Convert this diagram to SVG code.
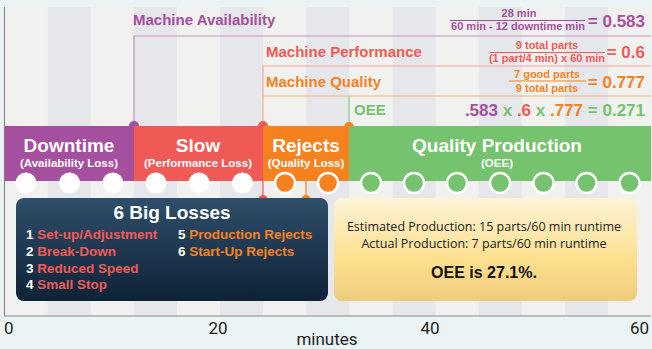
<svg xmlns="http://www.w3.org/2000/svg" width="652" height="349" viewBox="0 0 652 349">
<defs>
<linearGradient id="gBlue" x1="0" y1="0" x2="0" y2="1"><stop offset="0" stop-color="#2f4f6b"/><stop offset="1" stop-color="#0f2236"/></linearGradient>
<linearGradient id="gYel" x1="0" y1="0" x2="0" y2="1"><stop offset="0" stop-color="#fcf3d6"/><stop offset="0.6" stop-color="#fde08e"/><stop offset="1" stop-color="#eecb7d"/></linearGradient>
<style>
.b{font-family:"Liberation Sans",Arial,sans-serif;font-weight:bold}
.n{font-family:"Open Sans","DejaVu Sans",sans-serif}
.ax{font-family:Roboto,"Liberation Sans",sans-serif;font-size:17px;fill:#222}
.dk{fill:#e6e7eb}
.wc{fill:#fff}
.oc{fill:#f5821f;stroke:#fff;stroke-width:2.5}
.gc{fill:#76c36f;stroke:#fff;stroke-width:2.5}
.bt{font-size:19px;fill:#fff;text-anchor:middle}
.bs{font-size:11.5px;fill:#fff;text-anchor:middle}
.hd{font-size:15px}
.fr{font-size:11px;text-anchor:middle}
.eq{font-size:17px}
.li{font-size:13.5px}
</style>
</defs>
<rect x="0" y="0" width="652" height="349" fill="#eaf4f4"/>
<g id="plot">
<rect x="4" y="7" width="647" height="309" fill="#f1f2ef"/>
<rect class="dk" x="47.6" y="7" width="43.1" height="309"/>
<rect class="dk" x="133.8" y="7" width="43.1" height="309"/>
<rect class="dk" x="220.1" y="7" width="43.1" height="309"/>
<rect class="dk" x="306.3" y="7" width="43.1" height="309"/>
<rect class="dk" x="392.5" y="7" width="43.1" height="309"/>
<rect class="dk" x="478.7" y="7" width="43.1" height="309"/>
<rect class="dk" x="565" y="7" width="43.1" height="309"/>
<path d="M4.5 7V316H651" fill="none" stroke="#8a8a8a" stroke-width="1.2"/>
</g>
<g id="axis">
<text class="ax" x="4" y="334">0</text>
<text class="ax" x="218" y="334" text-anchor="middle">20</text>
<text class="ax" x="430" y="334" text-anchor="middle">40</text>
<text class="ax" x="649" y="334" text-anchor="end">60</text>
<text class="ax" x="327" y="345" text-anchor="middle" font-size="16">minutes</text>
</g>
<g id="connectors" fill="none" stroke-width="1.2">
<path d="M134 126V36H651" stroke="#c98fc6"/>
<path d="M263 96V66H651" stroke="#f6a3a0"/>
<path d="M263 126V96H651" stroke="#f6b278"/>
<path d="M349 126V96" stroke="#8fcf86"/>
<path d="M263 181V200" stroke="#ef5a57"/>
<path d="M306 181V200" stroke="#f5821f"/>
<circle cx="134" cy="126" r="5" fill="#a4509f" stroke="none"/>
<circle cx="263" cy="126" r="5" fill="#ef5a57" stroke="none"/>
<circle cx="349" cy="127" r="5" fill="#f5821f" stroke="none"/>
<circle cx="263" cy="200" r="5" fill="#ef5a57" stroke="none"/>
<circle cx="306" cy="200" r="5" fill="#f5821f" stroke="none"/>
</g>
<g id="availability">
<text class="b hd" x="133" y="25" fill="#a4509f">Machine Availability</text>
<text class="b fr" x="519" y="17" fill="#a4509f">28 min</text>
<line x1="450" y1="20.5" x2="585" y2="20.5" stroke="#a4509f" stroke-width="1"/>
<text class="b fr" x="518" y="30" fill="#a4509f">60 min - 12 downtime min</text>
<text class="b eq" x="645" y="27" fill="#a4509f" text-anchor="end">= 0.583</text>
</g>
<g id="performance">
<text class="b hd" x="266" y="57" fill="#ef5a57">Machine Performance</text>
<text class="b fr" x="547" y="49" fill="#ef5a57">9 total parts</text>
<line x1="490" y1="52.5" x2="605" y2="52.5" stroke="#ef5a57" stroke-width="1"/>
<text class="b fr" x="547" y="62" fill="#ef5a57">(1 part/4 min) x 60 min</text>
<text class="b eq" x="645" y="58" fill="#ef5a57" text-anchor="end">= 0.6</text>
</g>
<g id="quality">
<text class="b hd" x="266" y="87" fill="#f5821f">Machine Quality</text>
<text class="b fr" x="547" y="78" fill="#f5821f">7 good parts</text>
<line x1="509" y1="81" x2="586" y2="81" stroke="#f5821f" stroke-width="1"/>
<text class="b fr" x="547" y="92" fill="#f5821f">9 total parts</text>
<text class="b eq" x="645" y="88" fill="#f5821f" text-anchor="end">= 0.777</text>
</g>
<g id="oee">
<text class="b hd" x="354" y="115" fill="#76c36f">OEE</text>
<text class="b eq" x="645" y="116" text-anchor="end" fill="#76c36f"><tspan fill="#a4509f">.583</tspan> x <tspan fill="#ef5a57">.6</tspan> x <tspan fill="#f5821f">.777</tspan> = 0.271</text>
</g>
<g id="downtime">
<rect x="4.5" y="126" width="129.5" height="55" fill="#a4509f"/>
<text class="b bt" x="69" y="152">Downtime</text>
<text class="b bs" x="69" y="167">(Availability Loss)</text>
<circle class="wc" cx="26" cy="183" r="10.5"/>
<circle class="wc" cx="69.6" cy="183" r="10.5"/>
<circle class="wc" cx="112.8" cy="183" r="10.5"/>
</g>
<g id="slow">
<rect x="134" y="126" width="129" height="55" fill="#ef5a57"/>
<text class="b bt" x="198" y="152">Slow</text>
<text class="b bs" x="198" y="167">(Performance Loss)</text>
<circle class="wc" cx="156" cy="183" r="10.5"/>
<circle class="wc" cx="199" cy="183" r="10.5"/>
<circle class="wc" cx="242.5" cy="183" r="10.5"/>
</g>
<g id="rejects">
<rect x="263" y="126" width="86" height="55" fill="#f5821f"/>
<text class="b bt" x="306" y="152">Rejects</text>
<text class="b bs" x="306" y="167">(Quality Loss)</text>
<circle class="oc" cx="285" cy="183" r="10"/>
<circle class="oc" cx="328" cy="183" r="10"/>
</g>
<g id="production">
<rect x="349" y="126" width="302" height="55" fill="#76c36f"/>
<text class="b bt" x="497" y="152">Quality Production</text>
<text class="b bs" x="497" y="167">(OEE)</text>
<circle class="gc" cx="371" cy="183" r="10"/>
<circle class="gc" cx="414" cy="183" r="10"/>
<circle class="gc" cx="457" cy="183" r="10"/>
<circle class="gc" cx="500" cy="183" r="10"/>
<circle class="gc" cx="543.5" cy="183" r="10"/>
<circle class="gc" cx="586.5" cy="183" r="10"/>
<circle class="gc" cx="629.5" cy="183" r="10"/>
</g>
<g id="losses">
<rect x="16" y="198" width="312" height="103" rx="8" fill="url(#gBlue)"/>
<text class="b" x="172" y="219" font-size="19" fill="#fff" text-anchor="middle">6 Big Losses</text>
<g class="b li" fill="#ef5a57">
<text x="26" y="239"><tspan fill="#fff">1 </tspan>Set-up/Adjustment</text>
<text x="26" y="256"><tspan fill="#fff">2 </tspan>Break-Down</text>
<text x="26" y="273"><tspan fill="#fff">3 </tspan>Reduced Speed</text>
<text x="26" y="289"><tspan fill="#fff">4 </tspan>Small Stop</text>
</g>
<g class="b li" fill="#f5821f">
<text x="178" y="239"><tspan fill="#fff">5 </tspan>Production Rejects</text>
<text x="178" y="256"><tspan fill="#fff">6 </tspan>Start-Up Rejects</text>
</g>
</g>
<g id="summary">
<rect x="334" y="198" width="303" height="103" rx="8" fill="url(#gYel)"/>
<text class="n" x="484" y="230.5" font-size="12.5" fill="#222" text-anchor="middle">Estimated Production: 15 parts/60 min runtime</text>
<text class="n" x="484" y="247.5" font-size="12.5" fill="#222" text-anchor="middle">Actual Production: 7 parts/60 min runtime</text>
<text class="b" x="484" y="278" font-size="16" fill="#111" text-anchor="middle">OEE is 27.1%.</text>
</g>
</svg>
